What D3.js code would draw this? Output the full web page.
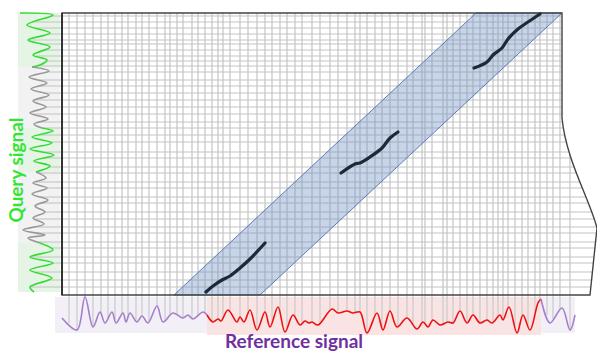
<!DOCTYPE html>
<html>
<head>
<meta charset="utf-8">
<script src="https://cdn.jsdelivr.net/npm/d3@7"></script>
<style>
  body { margin: 0; background: #fff; }
</style>
</head>
<body>
<div id="chart"></div>
<script>
// sample times that give the grid columns (reference) and rows (query)
const refTimes = [7, 15, 23, 31, 39, 46, 53, 60, 66, 74, 80, 87, 95, 103, 108, 115, 121, 130, 136, 143,
  150, 156, 161, 168, 178, 186, 195, 203, 210, 218, 225, 233, 240, 250, 258, 268, 276, 285, 293, 298,
  305, 313, 320, 328, 336, 345, 351, 360, 363, 370, 381, 385, 391, 398, 405, 411, 418, 425, 431, 436,
  441, 446, 453, 460, 466, 473, 478, 485, 491, 498, 508];
const queryTimes = [3, 9, 15, 21, 27, 31, 37, 43, 48, 53, 59, 67, 73, 80, 87, 94, 101, 109, 115, 122,
  129, 139, 145, 154, 160, 169, 175, 184, 190, 199, 206, 214, 220, 229, 235, 244, 250, 259, 267, 274];

// reference signal [time, value]
const refHead = [[0, 0], [15, -12], [23, 21], [31, -9], [38, 6], [43, -5], [50, 6], [54, -5], [61, 5],
  [64, -4], [68, 5], [75, -4], [80, 2], [86, -5], [95, 12], [101, -4], [111, 5], [121, 0], [126, 3],
  [131, -1], [141, 6], [145, 3]];
const refMatch = [[145, 3], [151, -4], [156, -1], [159, -3], [166, 8], [175, -4], [178, 1], [182, -4],
  [188, 8], [195, -12], [203, 6], [208, -9], [216, 11], [223, -14], [231, 3], [238, -7], [243, -3],
  [247, -5], [250, -4], [256, -7], [270, 9], [276, 5], [285, 7], [291, 5], [298, 6], [305, -15],
  [315, 5], [321, -12], [328, 7], [335, -9], [345, 0], [355, -11], [361, -4], [366, -9], [371, -2],
  [378, -7], [386, -4], [391, -5], [398, 7], [405, -5], [411, 3], [418, -5], [425, -2], [430, -5],
  [438, 3], [441, -2], [447, 11], [455, -15], [461, 3], [468, -12], [476, 15], [479, 19]];
const refTail = [[479, 19], [488, -5], [500, 10], [508, -12], [513, 3]];

// query signal [time, value], split where the colour changes
const queryParts = [
  { kind: "match", pts: [[0, -20], [2, 13], [12, -13], [20, 10], [27, -12], [34, 10], [42, -7], [47, 7], [52, 0], [54, -8]] },
  { kind: "other", pts: [[54, -8], [58, 9], [64, -11], [70, 7], [76, -9], [82, 9], [88, -7], [94, 6], [100, -10], [106, 8], [111, -6], [115, 2]] },
  { kind: "match", pts: [[115, 2], [118, 13], [124, -8], [130, 12], [136, -10], [142, 14], [148, -6], [153, 10], [159, -4]] },
  { kind: "other", pts: [[159, -4], [165, 6], [170, -7], [175, 7], [181, -8], [187, 8], [193, -5], [199, 5], [205, -7], [211, 4], [217, -17], [222, 5], [225, -12], [230, 0]] },
  { kind: "match", pts: [[230, 0], [237, 13], [244, -10], [250, 13], [257, -10], [265, 12], [274, -10], [279, -6]] }
];

// warping path pieces [refTime, queryTime]
const pathSegments = [
  [[144, 279], [151, 273], [160, 267], [168, 263], [178, 255], [188, 246], [203, 230]],
  [[279, 160], [293, 151], [298, 150], [308, 144], [320, 135], [328, 125], [336, 119]],
  [[412, 55], [425, 49], [431, 42], [440, 35], [446, 26], [456, 16], [466, 9], [478, 1]]
];

// band limits on the reference axis at the first and last query time
const bandBottom = [112, 198];
const bandTop = [414, 500];

const W = 597, H = 352;
const svg = d3.select("#chart").append("svg").attr("width", W).attr("height", H);

const x = d3.scaleLinear().domain([0, 500]).range([62, 562]);
const y = d3.scaleLinear().domain([0, 282]).range([13, 295]);
const refAmp = d3.scaleLinear().domain([-20, 20]).range([338, 298]);
const qAmp = d3.scaleLinear().domain([-20, 20]).range([20, 60]);

const refAll = refHead.concat(refMatch.slice(1), refTail.slice(1));
const queryAll = [];
queryParts.forEach((p, i) => queryAll.push(...(i ? p.pts.slice(1) : p.pts)));

function valueAt(series, s) {
  for (let i = 1; i < series.length; i++) {
    if (s <= series[i][0]) {
      const a = series[i - 1], b = series[i];
      return a[1] + (b[1] - a[1]) * (s - a[0]) / (b[0] - a[0]);
    }
  }
  return series[series.length - 1][1];
}

// backgrounds behind the signals
const qBg = { match: "#e5f4e5", other: "#f2f2f2" };
queryParts.forEach(p => {
  svg.append("rect")
    .attr("x", 18).attr("width", 42)
    .attr("y", y(p.pts[0][0])).attr("height", y(p.pts[p.pts.length - 1][0]) - y(p.pts[0][0]))
    .attr("fill", qBg[p.kind]);
});
[[refHead, "#f3eff7", 333], [refMatch, "#fae3e3", 335], [refTail, "#f3eff7", 333]].forEach(([s, c, b], i) => {
  const x0 = i === 0 ? x(-7) : x(s[0][0]);
  svg.append("rect")
    .attr("x", x0).attr("width", x(s[s.length - 1][0]) - x0)
    .attr("y", 297).attr("height", b - 297)
    .attr("fill", c);
});

// drop lines from the grid to the signals
svg.append("g").selectAll("line").data(refTimes.filter(u => u <= 513)).join("line")
  .attr("x1", d => x(d)).attr("x2", d => x(d))
  .attr("y1", 295).attr("y2", d => refAmp(valueAt(refAll, d)))
  .attr("stroke", "#c9c9c9").attr("stroke-width", 1.2);
svg.append("g").selectAll("line").data(queryTimes).join("line")
  .attr("y1", d => y(d)).attr("y2", d => y(d))
  .attr("x1", 62).attr("x2", d => qAmp(valueAt(queryAll, d)))
  .attr("stroke", "#c9c9c9").attr("stroke-width", 1.2);

// matrix outline (right side curls out like a bent sheet)
const outline = `M${x(0)},${y(0)} H${x(500)} V118 C566,160 590,200 597,228 L590,${y(282)} H${x(0)} Z`;
svg.append("clipPath").attr("id", "sheet").append("path").attr("d", outline);

const grid = svg.append("g").attr("clip-path", "url(#sheet)");
grid.selectAll(".v").data(refTimes).join("line").attr("class", "v")
  .attr("x1", d => x(d)).attr("x2", d => x(d)).attr("y1", y(0)).attr("y2", y(282))
  .attr("stroke", "#c4c4c4").attr("stroke-width", 1.2);
grid.selectAll(".h").data(queryTimes).join("line").attr("class", "h")
  .attr("y1", d => y(d)).attr("y2", d => y(d)).attr("x1", x(0)).attr("x2", 600)
  .attr("stroke", "#c4c4c4").attr("stroke-width", 1.2);

// band
svg.append("path")
  .attr("d", `M${x(bandBottom[0])},${y(282)} L${x(bandTop[0])},${y(0)} L${x(bandTop[1])},${y(0)} L${x(bandBottom[1])},${y(282)} Z`)
  .attr("fill", "#6f8fc0").attr("fill-opacity", 0.38)
  .attr("stroke", "#5a7db3").attr("stroke-width", 1);

svg.append("path").attr("d", outline)
  .attr("fill", "none").attr("stroke", "#444").attr("stroke-width", 1.4);
svg.append("line").attr("x1", x(0)).attr("x2", x(0)).attr("y1", y(0)).attr("y2", y(282))
  .attr("stroke", "#333").attr("stroke-width", 2);

// warping path
const pathLine = d3.line().x(d => x(d[0])).y(d => y(d[1])).curve(d3.curveCatmullRom);
svg.selectAll(".seg").data(pathSegments).join("path").attr("class", "seg")
  .attr("d", pathLine).attr("fill", "none")
  .attr("stroke", "#1c2a38").attr("stroke-width", 3.2).attr("stroke-linecap", "round");

// signals
const refLine = d3.line().x(d => x(d[0])).y(d => refAmp(d[1])).curve(d3.curveCatmullRom.alpha(0.5));
[[refHead, "#a57fcc"], [refMatch, "#ee1111"], [refTail, "#a57fcc"]].forEach(([s, c]) => {
  svg.append("path").attr("d", refLine(s)).attr("fill", "none")
    .attr("stroke", c).attr("stroke-width", 1.6);
});
const qLine = d3.line().x(d => qAmp(d[1])).y(d => y(d[0])).curve(d3.curveCatmullRom.alpha(0.5));
const qColor = { match: "#33dd33", other: "#999999" };
queryParts.forEach(p => {
  svg.append("path").attr("d", qLine(p.pts)).attr("fill", "none")
    .attr("stroke", qColor[p.kind]).attr("stroke-width", 1.6);
});

// labels
svg.append("text")
  .attr("transform", "translate(23,170) rotate(-90)")
  .attr("text-anchor", "middle")
  .attr("font-family", "Lato, sans-serif").attr("font-weight", 700).attr("font-size", 19)
  .attr("textLength", 105).attr("lengthAdjust", "spacingAndGlyphs")
  .attr("fill", "#33e633").text("Query signal");
svg.append("text")
  .attr("x", 294).attr("y", 348)
  .attr("text-anchor", "middle")
  .attr("font-family", "Lato, sans-serif").attr("font-weight", 700).attr("font-size", 19)
  .attr("textLength", 138).attr("lengthAdjust", "spacingAndGlyphs")
  .attr("fill", "#7030a0").text("Reference signal");
</script>
</body>
</html>
